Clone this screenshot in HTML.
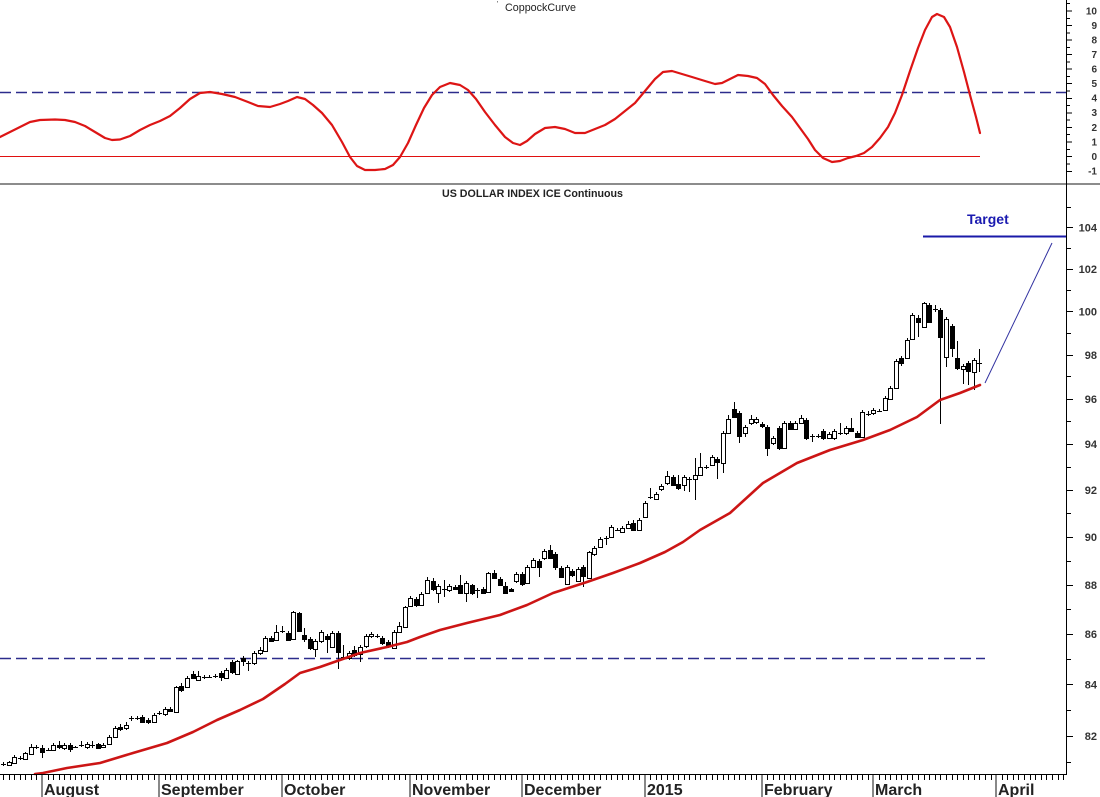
<!DOCTYPE html>
<html><head><meta charset="utf-8"><style>html,body{margin:0;padding:0;background:#fff;}svg{display:block}</style></head>
<body>
<svg width="1100" height="797" viewBox="0 0 1100 797" xmlns="http://www.w3.org/2000/svg" font-family="Liberation Sans, Arial, sans-serif">
<rect width="1100" height="797" fill="#fff"/>

<!-- ===== TOP PANEL ===== -->
<text x="497" y="6" font-size="7" fill="#333">'</text>
<text x="505" y="11" font-size="11" fill="#222" textLength="71" lengthAdjust="spacingAndGlyphs">CoppockCurve</text>
<line x1="0" y1="92.5" x2="1067" y2="92.5" stroke="#2c2c8c" stroke-width="1.5" stroke-dasharray="11 5"/>
<line x1="0" y1="156.5" x2="980" y2="156.5" stroke="#e01010" stroke-width="1"/>
<polyline fill="none" stroke="#dd1515" stroke-width="2.2" stroke-linejoin="round" stroke-linecap="round" points="0,137 10,132 20,127 30,122 40,120 55,119.5 65,120 75,122 85,126 95,132 105,138 112,140 120,139.5 130,136 140,130 150,125 160,121 170,116 180,108 190,99 200,93 210,92 222,94 235,97 248,102 258,106 270,107 280,104 288,101 297,97 305,99 313,105 322,113 332,125 342,142 350,157 357,166 365,170 375,170 385,169 393,165 400,157 408,143 416,125 424,108 432,95 440,87 450,83 460,85 468,90 476,99 485,112 495,125 505,137 513,143 520,145 527,141 535,134 545,128 555,127 565,129 575,133 585,133 595,129 605,125 615,119 625,111 635,103 645,91 655,79 663,72 672,71 682,74 692,77 705,81 715,84 722,83 730,79 738,75 748,76 757,78 765,84 773,95 782,106 792,117 800,128 808,139 815,150 823,158 832,162 840,161 848,158 856,156 864,153 872,147 880,138 888,127 895,113 902,95 910,71 918,48 925,30 932,17 937,14 944,17 950,27 957,47 964,72 970,95 976,117 980,133"/>

<!-- top axis ticks -->
<path stroke="#000" stroke-width="1" fill="none" d="M1067 171.5h5M1067 164h3M1067 156.5h5M1067 149.5h3M1067 142h5M1067 134.5h3M1067 127.5h5M1067 120h3M1067 113h5M1067 105.5h3M1067 98.5h5M1067 91h3M1067 83.5h5M1067 76.5h3M1067 69h5M1067 62h3M1067 54.5h5M1067 47.5h3M1067 40h5M1067 33h3M1067 25.5h5M1067 18.5h3M1067 11h5M1067 3.5h3"/>
<g font-size="10" font-weight="bold" fill="#333" text-anchor="end">
<text x="1097" y="14.5">10</text><text x="1097" y="29">9</text><text x="1097" y="43.5">8</text><text x="1097" y="58">7</text><text x="1097" y="72.5">6</text><text x="1097" y="87">5</text><text x="1097" y="101.5">4</text><text x="1097" y="116">3</text><text x="1097" y="131">2</text><text x="1097" y="145.5">1</text><text x="1097" y="160">0</text><text x="1097" y="174.5">-1</text>
</g>

<!-- separator -->
<rect x="0" y="183" width="1100" height="2" fill="#8c8c8c"/>

<!-- ===== BOTTOM PANEL ===== -->
<text x="442" y="197" font-size="11" font-weight="bold" fill="#222" textLength="181" lengthAdjust="spacingAndGlyphs">US DOLLAR INDEX ICE Continuous</text>
<text x="967" y="224" font-size="14" font-weight="bold" fill="#1a1ab0">Target</text>
<line x1="923" y1="236.5" x2="1067" y2="236.5" stroke="#1a1aa8" stroke-width="2"/>
<line x1="985" y1="383" x2="1052" y2="243" stroke="#3030a0" stroke-width="1"/>
<line x1="0" y1="658.5" x2="985" y2="658.5" stroke="#2c2c8c" stroke-width="1.5" stroke-dasharray="11 5"/>

<!-- wicks -->
<path stroke="#000" stroke-width="1" fill="none" d="M3.5 762V766M9.5 761V766M14.5 755V764M20.5 756V760M25.5 752V760M31.5 744V755M36.5 745V749M42.5 745V758M48.5 748V751M53.5 743V751M59.5 741V749M64.5 743V750M70.5 743V752M75.5 746V748M81.5 741V747M87.5 742V749M92.5 741V748M98.5 743V749M103.5 743V748M109.5 735V745M115.5 726V738M120.5 724V731M126.5 722V730M131.5 716V721M137.5 716V720M142.5 715V723M148.5 718V724M154.5 713V723M159.5 711V715M165.5 707V716M170.5 707V712M176.5 686V712M181.5 683V692M187.5 676V688M193.5 671V679M198.5 671V681M204.5 675V679M209.5 675V678M215.5 674V678M221.5 671V681M226.5 668V679M232.5 660V674M237.5 660V675M243.5 656V666M248.5 661V671M254.5 651V665M260.5 647V655M265.5 636V652M271.5 636V642M276.5 625V641M282.5 626V633M288.5 631V641M293.5 611V640M299.5 612V632M304.5 628V642M310.5 637V650M315.5 639V657M321.5 630V643M327.5 634V653M332.5 631V648M338.5 631V669M343.5 645V659M349.5 651V660M354.5 646V657M360.5 645V662M366.5 634V648M371.5 632V638M377.5 634V638M382.5 636V645M388.5 640V648M394.5 630V649M399.5 622V633M405.5 606V628M410.5 596V607M416.5 597V607M421.5 592V606M427.5 577V594M433.5 578V591M438.5 584V603M444.5 580V597M449.5 584V592M455.5 585V590M460.5 575V594M466.5 581V602M472.5 584V595M477.5 588V598M483.5 587V594M488.5 572V593M494.5 570V579M500.5 577V586M505.5 582V594M511.5 588V592M516.5 572V583M522.5 572V586M527.5 565V584M533.5 558V568M539.5 559V577M544.5 549V560M550.5 545V559M555.5 552V570M561.5 566V578M567.5 565V585M572.5 569V577M578.5 567V582M583.5 565V587M589.5 551V579M594.5 546V556M600.5 537V548M606.5 536V545M611.5 525V538M617.5 528V531M622.5 526V533M628.5 521V529M633.5 520V531M639.5 518V531M645.5 501V518M650.5 488V499M656.5 492V500M661.5 484V491M667.5 471V485M673.5 475V486M678.5 475V490M684.5 475V491M689.5 477V492M695.5 458V500M700.5 453V476M706.5 465V469M712.5 455V466M717.5 457V479M723.5 431V473M728.5 415V434M734.5 402V418M739.5 411V443M745.5 425V437M751.5 415V425M756.5 417V424M762.5 422V428M767.5 425V456M773.5 436V445M779.5 426V450M784.5 421V449M790.5 421V430M795.5 421V430M801.5 415V424M806.5 418V440M812.5 434V442M818.5 434V438M823.5 429V440M829.5 432V439M834.5 429V440M840.5 423V435M846.5 426V435M851.5 418V432M857.5 431V438M862.5 410V438M868.5 411V416M873.5 408V415M879.5 409V412M885.5 396V411M890.5 386V400M896.5 359V389M901.5 356V366M907.5 338V359M912.5 313V340M918.5 315V337M924.5 302V328M929.5 303V323M935.5 305V312M940.5 308V424M946.5 317V367M952.5 324V357M957.5 341V370M963.5 364V384M968.5 361V385M974.5 358V390M979.5 349V372"/>
<!-- doji dashes -->
<path stroke="#000" stroke-width="1" fill="none" d="M1 764.5h5M18 758.5h5M34 747.5h5M46 750.5h5M73 747.5h5M79 745.5h5M90 745.5h5M129 718.5h5M135 718.5h5M157 713.5h5M202 677.5h5M207 677.5h5M213 676.5h5M246 663.5h5M280 631.5h5M341 657.5h5M375 636.5h5M442 589.5h5M475 590.5h5M604 538.5h5M615 530.5h5M648 497.5h5M687 479.5h5M704 467.5h5M810 436.5h5M816 436.5h5M838 433.5h5M866 414.5h5M877 411.5h5M933 309.5h5M977 363.5h5"/>
<!-- white bodies -->
<path stroke="#000" stroke-width="1" fill="#fff" d="M7.5 762.5h4v3h-4zM12.5 757.5h4v6h-4zM23.5 753.5h4v6h-4zM29.5 747.5h4v7h-4zM51.5 745.5h4v5h-4zM62.5 745.5h4v3h-4zM85.5 744.5h4v3h-4zM101.5 745.5h4v2h-4zM107.5 737.5h4v7h-4zM113.5 728.5h4v9h-4zM124.5 725.5h4v3h-4zM152.5 715.5h4v7h-4zM163.5 709.5h4v5h-4zM174.5 687.5h4v25h-4zM185.5 678.5h4v9h-4zM196.5 676.5h4v4h-4zM224.5 670.5h4v8h-4zM235.5 661.5h4v13h-4zM252.5 653.5h4v10h-4zM258.5 650.5h4v3h-4zM263.5 638.5h4v13h-4zM274.5 632.5h4v8h-4zM291.5 612.5h4v27h-4zM313.5 641.5h4v8h-4zM319.5 632.5h4v9h-4zM330.5 633.5h4v14h-4zM347.5 653.5h4v5h-4zM358.5 647.5h4v7h-4zM364.5 636.5h4v10h-4zM369.5 634.5h4v2h-4zM392.5 632.5h4v16h-4zM397.5 626.5h4v6h-4zM403.5 607.5h4v20h-4zM408.5 598.5h4v8h-4zM419.5 594.5h4v11h-4zM425.5 580.5h4v13h-4zM436.5 586.5h4v7h-4zM447.5 586.5h4v4h-4zM464.5 583.5h4v10h-4zM486.5 573.5h4v19h-4zM514.5 574.5h4v7h-4zM525.5 567.5h4v16h-4zM531.5 560.5h4v7h-4zM542.5 551.5h4v7h-4zM565.5 567.5h4v17h-4zM576.5 569.5h4v12h-4zM587.5 552.5h4v26h-4zM592.5 548.5h4v6h-4zM598.5 539.5h4v8h-4zM609.5 527.5h4v10h-4zM620.5 528.5h4v4h-4zM626.5 524.5h4v4h-4zM637.5 520.5h4v10h-4zM643.5 503.5h4v14h-4zM654.5 494.5h4v5h-4zM659.5 486.5h4v3h-4zM665.5 476.5h4v7h-4zM682.5 477.5h4v8h-4zM693.5 475.5h4v4h-4zM698.5 467.5h4v8h-4zM710.5 457.5h4v8h-4zM721.5 433.5h4v30h-4zM726.5 419.5h4v14h-4zM743.5 427.5h4v6h-4zM749.5 419.5h4v4h-4zM754.5 419.5h4v3h-4zM771.5 438.5h4v5h-4zM782.5 423.5h4v25h-4zM793.5 423.5h4v6h-4zM799.5 418.5h4v5h-4zM827.5 434.5h4v4h-4zM832.5 431.5h4v7h-4zM844.5 428.5h4v5h-4zM860.5 412.5h4v25h-4zM871.5 410.5h4v3h-4zM883.5 398.5h4v12h-4zM888.5 388.5h4v11h-4zM894.5 361.5h4v27h-4zM905.5 340.5h4v18h-4zM910.5 315.5h4v24h-4zM922.5 303.5h4v24h-4zM944.5 319.5h4v38h-4zM961.5 366.5h4v3h-4zM972.5 360.5h4v12h-4z"/>
<!-- black bodies -->
<path stroke="#000" stroke-width="1" fill="#000" d="M40.5 748.5h4v4h-4zM57.5 745.5h4v2h-4zM68.5 745.5h4v4h-4zM96.5 744.5h4v4h-4zM118.5 727.5h4v2h-4zM140.5 717.5h4v5h-4zM146.5 720.5h4v2h-4zM168.5 709.5h4v2h-4zM179.5 686.5h4v4h-4zM191.5 674.5h4v4h-4zM219.5 673.5h4v4h-4zM230.5 662.5h4v10h-4zM241.5 658.5h4v3h-4zM269.5 638.5h4v3h-4zM286.5 633.5h4v7h-4zM297.5 613.5h4v18h-4zM302.5 635.5h4v4h-4zM308.5 639.5h4v9h-4zM325.5 636.5h4v3h-4zM336.5 633.5h4v19h-4zM352.5 650.5h4v5h-4zM380.5 638.5h4v5h-4zM386.5 642.5h4v3h-4zM414.5 599.5h4v6h-4zM431.5 581.5h4v8h-4zM453.5 587.5h4v2h-4zM458.5 585.5h4v8h-4zM470.5 585.5h4v8h-4zM481.5 589.5h4v4h-4zM492.5 573.5h4v5h-4zM498.5 579.5h4v6h-4zM503.5 586.5h4v7h-4zM509.5 589.5h4v2h-4zM520.5 574.5h4v10h-4zM537.5 561.5h4v6h-4zM548.5 550.5h4v8h-4zM553.5 554.5h4v13h-4zM559.5 568.5h4v9h-4zM570.5 571.5h4v4h-4zM581.5 567.5h4v9h-4zM631.5 523.5h4v7h-4zM671.5 477.5h4v8h-4zM676.5 484.5h4v4h-4zM715.5 459.5h4v3h-4zM732.5 409.5h4v8h-4zM737.5 413.5h4v23h-4zM760.5 424.5h4v2h-4zM765.5 427.5h4v21h-4zM777.5 428.5h4v20h-4zM788.5 423.5h4v6h-4zM804.5 420.5h4v18h-4zM821.5 431.5h4v7h-4zM849.5 428.5h4v3h-4zM855.5 433.5h4v4h-4zM899.5 358.5h4v5h-4zM916.5 318.5h4v4h-4zM927.5 305.5h4v17h-4zM938.5 310.5h4v27h-4zM950.5 326.5h4v22h-4zM955.5 358.5h4v10h-4zM966.5 363.5h4v8h-4z"/>

<!-- moving average -->
<polyline fill="none" stroke="#cc1515" stroke-width="2.6" stroke-linejoin="round" stroke-linecap="round" points="35,774 43,773 67,768 100,763 133,753 167,743 193,732 217,720 240,710 263,699 285,684 300,673 320,667 340,660 360,653 387,647 407,642 420,637 440,630 467,623 500,615 527,605 553,593 587,582 613,573 640,563 665,552 683,542 700,530 730,513 763,483 797,463 830,450 863,440 890,430 917,417 940,400 960,393 980,385"/>

<!-- right axis -->
<line x1="1066.5" y1="0" x2="1066.5" y2="775" stroke="#000" stroke-width="1"/>
<path stroke="#000" stroke-width="1" fill="none" d="M1067 762.5h4M1067 736.5h6M1067 710.5h4M1067 684.5h6M1067 659.5h4M1067 634.5h6M1067 609.5h4M1067 585.5h6M1067 561.5h4M1067 537.5h6M1067 513.5h4M1067 490.5h6M1067 467.5h4M1067 444.5h6M1067 421.5h4M1067 399.5h6M1067 376.5h4M1067 355.5h6M1067 333.5h4M1067 311.5h6M1067 290.5h4M1067 269.5h6M1067 248.5h4M1067 227.5h6M1067 207.5h4"/>
<g font-size="11" font-weight="bold" fill="#333" text-anchor="end">
<text x="1097" y="740">82</text><text x="1097" y="688.5">84</text><text x="1097" y="638">86</text><text x="1097" y="589">88</text><text x="1097" y="541">90</text><text x="1097" y="494">92</text><text x="1097" y="448">94</text><text x="1097" y="403">96</text><text x="1097" y="359">98</text><text x="1097" y="315.5">100</text><text x="1097" y="273">102</text><text x="1097" y="231.5">104</text>
</g>

<!-- x axis -->
<line x1="0" y1="774.5" x2="1067" y2="774.5" stroke="#000" stroke-width="1"/>
<path stroke="#000" stroke-width="1" fill="none" d="M3.5 775v5M9.5 775v5M14.5 775v5M20.5 775v5M25.5 775v5M31.5 775v5M36.5 775v5M42.5 775v5M48.5 775v5M53.5 775v5M59.5 775v5M64.5 775v5M70.5 775v5M75.5 775v5M81.5 775v5M87.5 775v5M92.5 775v5M98.5 775v5M103.5 775v5M109.5 775v5M115.5 775v5M120.5 775v5M126.5 775v5M131.5 775v5M137.5 775v5M142.5 775v5M148.5 775v5M154.5 775v5M159.5 775v5M165.5 775v5M170.5 775v5M176.5 775v5M181.5 775v5M187.5 775v5M193.5 775v5M198.5 775v5M204.5 775v5M209.5 775v5M215.5 775v5M221.5 775v5M226.5 775v5M232.5 775v5M237.5 775v5M243.5 775v5M248.5 775v5M254.5 775v5M260.5 775v5M265.5 775v5M271.5 775v5M276.5 775v5M282.5 775v5M288.5 775v5M293.5 775v5M299.5 775v5M304.5 775v5M310.5 775v5M315.5 775v5M321.5 775v5M327.5 775v5M332.5 775v5M338.5 775v5M343.5 775v5M349.5 775v5M354.5 775v5M360.5 775v5M366.5 775v5M371.5 775v5M377.5 775v5M382.5 775v5M388.5 775v5M394.5 775v5M399.5 775v5M405.5 775v5M410.5 775v5M416.5 775v5M421.5 775v5M427.5 775v5M433.5 775v5M438.5 775v5M444.5 775v5M449.5 775v5M455.5 775v5M460.5 775v5M466.5 775v5M472.5 775v5M477.5 775v5M483.5 775v5M488.5 775v5M494.5 775v5M500.5 775v5M505.5 775v5M511.5 775v5M516.5 775v5M522.5 775v5M527.5 775v5M533.5 775v5M539.5 775v5M544.5 775v5M550.5 775v5M555.5 775v5M561.5 775v5M567.5 775v5M572.5 775v5M578.5 775v5M583.5 775v5M589.5 775v5M594.5 775v5M600.5 775v5M606.5 775v5M611.5 775v5M617.5 775v5M622.5 775v5M628.5 775v5M633.5 775v5M639.5 775v5M645.5 775v5M650.5 775v5M656.5 775v5M661.5 775v5M667.5 775v5M673.5 775v5M678.5 775v5M684.5 775v5M689.5 775v5M695.5 775v5M700.5 775v5M706.5 775v5M712.5 775v5M717.5 775v5M723.5 775v5M728.5 775v5M734.5 775v5M739.5 775v5M745.5 775v5M751.5 775v5M756.5 775v5M762.5 775v5M767.5 775v5M773.5 775v5M779.5 775v5M784.5 775v5M790.5 775v5M795.5 775v5M801.5 775v5M806.5 775v5M812.5 775v5M818.5 775v5M823.5 775v5M829.5 775v5M834.5 775v5M840.5 775v5M846.5 775v5M851.5 775v5M857.5 775v5M862.5 775v5M868.5 775v5M873.5 775v5M879.5 775v5M885.5 775v5M890.5 775v5M896.5 775v5M901.5 775v5M907.5 775v5M912.5 775v5M918.5 775v5M924.5 775v5M929.5 775v5M935.5 775v5M940.5 775v5M946.5 775v5M952.5 775v5M957.5 775v5M963.5 775v5M968.5 775v5M974.5 775v5M979.5 775v5M985.5 775v5M991.5 775v5M996.5 775v5M1002.5 775v5M1007.5 775v5M1013.5 775v5M1018.5 775v5M1024.5 775v5M1030.5 775v5M1035.5 775v5M1041.5 775v5M1046.5 775v5M1052.5 775v5M1058.5 775v5M1063.5 775v5"/>
<g fill="#888">
<rect x="41" y="775" width="2" height="22"/><rect x="158" y="775" width="2" height="22"/><rect x="281" y="775" width="2" height="22"/><rect x="409" y="775" width="2" height="22"/><rect x="521" y="775" width="2" height="22"/><rect x="644" y="775" width="2" height="22"/><rect x="761" y="775" width="2" height="22"/><rect x="872" y="775" width="2" height="22"/><rect x="995" y="775" width="2" height="22"/>
</g>
<g font-size="16" font-weight="bold" fill="#222">
<text x="44" y="795">August</text><text x="161" y="795">September</text><text x="284" y="795">October</text><text x="412" y="795">November</text><text x="524" y="795">December</text><text x="647" y="795">2015</text><text x="764" y="795">February</text><text x="875" y="795">March</text><text x="998" y="795">April</text>
</g>
</svg>
</body></html>
